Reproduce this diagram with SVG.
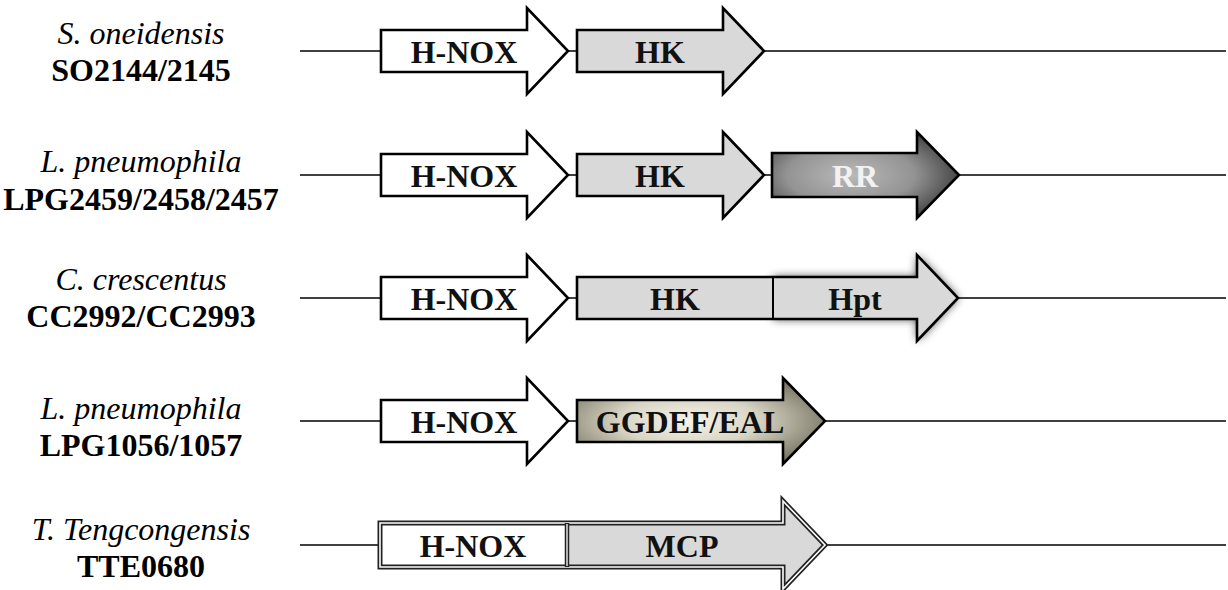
<svg xmlns="http://www.w3.org/2000/svg" width="1228" height="590" viewBox="0 0 1228 590">
<defs>
<style>
.lbl{font-family:"Liberation Serif","Times New Roman",serif;font-size:32px;fill:#000;text-anchor:middle}
.it{font-style:italic}
.bd{font-weight:bold}
.dom{font-family:"Liberation Serif","Times New Roman",serif;font-size:32px;font-weight:bold;fill:#111;text-anchor:middle}
.ar{stroke:#000;stroke-width:2.6;stroke-linejoin:miter}
.wh{fill:#fff}
.gr{fill:#d9d9d9}
.ln{stroke:#000;stroke-width:1.5;fill:none}
</style>
<radialGradient id="gRR" cx="0.42" cy="0.5" r="0.62">
<stop offset="0" stop-color="#b9b9b9"/>
<stop offset="0.55" stop-color="#939393"/>
<stop offset="1" stop-color="#3a3a3a"/>
</radialGradient>
<radialGradient id="gGG" cx="0.45" cy="0.5" r="0.62">
<stop offset="0" stop-color="#f6f4ea"/>
<stop offset="0.45" stop-color="#d8d5c5"/>
<stop offset="1" stop-color="#6f6b5a"/>
</radialGradient>
<filter id="glow" x="-20%" y="-30%" width="140%" height="160%">
<feGaussianBlur stdDeviation="5"/>
</filter>
</defs>
<rect width="1228" height="590" fill="#fff"/>

<g id="connectors">
<line class="ln" x1="300" y1="51" x2="1226" y2="51"/>
<line class="ln" x1="300" y1="175" x2="1226" y2="175"/>
<line class="ln" x1="300" y1="298" x2="1226" y2="298"/>
<line class="ln" x1="300" y1="421" x2="1226" y2="421"/>
<line class="ln" x1="300" y1="545" x2="1226" y2="545"/>
</g>

<g id="labels">
<text class="lbl it" x="141" y="44">S. oneidensis</text>
<text class="lbl bd" x="141" y="81">SO2144/2145</text>
<text class="lbl it" x="141" y="172">L. pneumophila</text>
<text class="lbl bd" x="141" y="210">LPG2459/2458/2457</text>
<text class="lbl it" x="141" y="290">C. crescentus</text>
<text class="lbl bd" x="141" y="327">CC2992/CC2993</text>
<text class="lbl it" x="141" y="419">L. pneumophila</text>
<text class="lbl bd" x="141" y="456">LPG1056/1057</text>
<text class="lbl it" x="141" y="540">T. Tengcongensis</text>
<text class="lbl bd" x="141" y="577">TTE0680</text>
</g>

<!-- Row 1 -->
<g id="r1-hnox">
<path class="ar wh" d="M381,30 H527 V8 L568,51 L527,94 V72 H381 Z"/>
<text class="dom" x="464" y="63">H-NOX</text>
</g>
<g id="r1-hk">
<path class="ar gr" d="M577,30 H723 V8 L764,51 L723,94 V72 H577 Z"/>
<text class="dom" x="660" y="63">HK</text>
</g>

<!-- Row 2 -->
<g id="r2-hnox">
<path class="ar wh" d="M381,154 H527 V132 L568,175 L527,218 V196 H381 Z"/>
<text class="dom" x="464" y="187">H-NOX</text>
</g>
<g id="r2-hk">
<path class="ar gr" d="M577,154 H723 V132 L764,175 L723,218 V196 H577 Z"/>
<text class="dom" x="660" y="187">HK</text>
</g>
<g id="r2-rr">
<path class="ar" fill="url(#gRR)" d="M772,153 H917 V132 L959,175 L917,218 V197 H772 Z"/>
<text class="dom" x="855" y="187" style="fill:#f2f2f2">RR</text>
</g>

<!-- Row 3 -->
<g id="r3-hnox">
<path class="ar wh" d="M381,277 H527 V255 L568,298 L527,341 V319 H381 Z"/>
<text class="dom" x="464" y="310">H-NOX</text>
</g>
<g id="r3-hk-hpt">
<path d="M773,277 H917 V255 L958,298 L917,341 V319 H773 Z" fill="#000" opacity="0.75" filter="url(#glow)"/>
<path class="ar gr" d="M577,277 H917 V255 L958,298 L917,341 V319 H577 Z"/>
<line x1="773" y1="277" x2="773" y2="319" stroke="#000" stroke-width="2"/>
<text class="dom" x="675" y="310">HK</text>
<text class="dom" x="855" y="310">Hpt</text>
</g>

<!-- Row 4 -->
<g id="r4-hnox">
<path class="ar wh" d="M381,400 H527 V378 L568,421 L527,464 V442 H381 Z"/>
<text class="dom" x="464" y="433">H-NOX</text>
</g>
<g id="r4-ggdef">
<path class="ar" fill="url(#gGG)" d="M577,400 H783 V378 L825,421 L783,464 V442 H577 Z"/>
<text class="dom" x="690" y="433">GGDEF/EAL</text>
</g>

<!-- Row 5 -->
<g id="r5-hnox-mcp">
<rect x="380" y="523" width="187" height="44" fill="#fff"/>
<path d="M567,523 H783 V501 L825,545 L783,589 V567 H567 Z" fill="#d9d9d9"/>
<path d="M380,523 H783 V501 L825,545 L783,589 V567 H380 Z" fill="none" stroke="#222" stroke-width="5"/>
<path d="M380,523 H783 V501 L825,545 L783,589 V567 H380 Z" fill="none" stroke="#fff" stroke-width="1.6"/>
<line x1="567" y1="523" x2="567" y2="567" stroke="#222" stroke-width="4.5"/>
<line x1="567" y1="524" x2="567" y2="566" stroke="#fff" stroke-width="1.3"/>
<text class="dom" x="473" y="557">H-NOX</text>
<text class="dom" x="682" y="557">MCP</text>
</g>
</svg>
